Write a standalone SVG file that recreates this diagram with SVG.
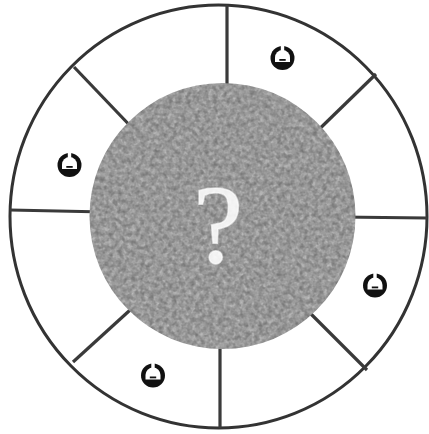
<svg xmlns="http://www.w3.org/2000/svg" width="429" height="434" viewBox="0 0 429 434">
  <style>
    .ring { fill: #ffffff; stroke: #333333; stroke-width: 3; }
    .spoke { stroke: #3a3a3a; stroke-width: 3.2; stroke-linecap: butt; fill: none; }
    .qm { font-family: "Liberation Serif", "DejaVu Serif", serif; font-size: 112px; font-weight: normal; fill: #ffffff; fill-opacity: 0.88; stroke: #ffffff; stroke-width: 1.5; stroke-opacity: 0.6; }
  </style>
  <defs>
    <filter id="grain" x="0" y="0" width="100%" height="100%" color-interpolation-filters="sRGB">
      <feTurbulence type="fractalNoise" baseFrequency="0.22" numOctaves="2" seed="7" result="n"/>
      <feColorMatrix in="n" type="matrix" values="0 0 0 0 0  0 0 0 0 0  0 0 0 0 0  2.2 0 0 0 -0.85" result="a"/>
      <feFlood flood-color="#777777" result="dark"/>
      <feComposite in="dark" in2="a" operator="in" result="spots"/>
      <feTurbulence type="fractalNoise" baseFrequency="0.25" numOctaves="2" seed="19" result="n2"/>
      <feColorMatrix in="n2" type="matrix" values="0 0 0 0 0  0 0 0 0 0  0 0 0 0 0  2.2 0 0 0 -0.9" result="a2"/>
      <feFlood flood-color="#bdbdbd" result="light"/>
      <feComposite in="light" in2="a2" operator="in" result="lspots"/>
      <feFlood flood-color="#9c9c9c" result="base"/>
      <feMerge result="m"><feMergeNode in="base"/><feMergeNode in="lspots"/><feMergeNode in="spots"/></feMerge>
      <feComposite in="m" in2="SourceGraphic" operator="in"/>
    </filter>
    <symbol id="mark" viewBox="-12 -12 24 24" overflow="visible">
      <circle cx="0" cy="0" r="12" fill="#111111"/>
      <rect x="-1.7" y="-12.5" width="3.4" height="8" fill="#ffffff"/>
      <path d="M -7.5 4 L -7.5 -0.5 A 7.5 7.5 0 0 1 7.5 -0.5 L 7.5 4 Z" fill="#ffffff"/>
      <rect x="-3.2" y="1" width="6.4" height="1.8" fill="#111111"/>
    </symbol>
  </defs>

  <g id="outer-ring">
    <ellipse class="ring" cx="218.5" cy="216.5" rx="208.5" ry="211.5"/>
  </g>

  <g id="connectors">
    <line class="spoke" x1="227" y1="5" x2="227" y2="100"/>
    <line class="spoke" x1="376" y1="74" x2="305" y2="143"/>
    <line class="spoke" x1="340" y1="217" x2="427" y2="218"/>
    <line class="spoke" x1="300" y1="303" x2="367" y2="370"/>
    <line class="spoke" x1="220" y1="335" x2="220" y2="428"/>
    <line class="spoke" x1="140" y1="301" x2="73" y2="362"/>
    <line class="spoke" x1="10" y1="210" x2="105" y2="212"/>
    <line class="spoke" x1="74" y1="67" x2="138" y2="134"/>
  </g>

  <g id="center">
    <circle cx="222.5" cy="216" r="133" fill="#a0a0a0" filter="url(#grain)"/>
    <text class="qm" x="218" y="262" text-anchor="middle">?</text>
  </g>

  <g id="mark-1"><use href="#mark" x="270.5" y="46" width="24" height="24"/></g>
  <g id="mark-2"><use href="#mark" x="57.5" y="153" width="24" height="24"/></g>
  <g id="mark-3"><use href="#mark" x="363" y="273.5" width="24" height="24"/></g>
  <g id="mark-4"><use href="#mark" x="141" y="363.5" width="24" height="24"/></g>
</svg>
